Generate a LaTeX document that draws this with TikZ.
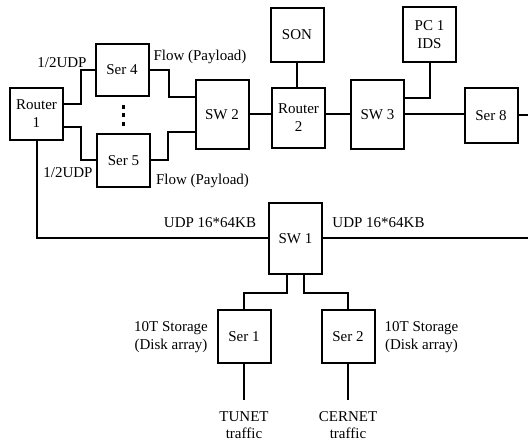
\documentclass[tikz,border=0pt]{standalone}
\usepackage{fontspec}
\setmainfont{Liberation Serif}
\usetikzlibrary{positioning}

\begin{document}
\begin{tikzpicture}[x=1pt,y=-1pt,
  box/.style={draw,line width=2pt,align=center,inner sep=0pt,
    minimum width=53pt,minimum height=53pt,font=\fontsize{15}{18}\selectfont},
  swbox/.style={box,minimum height=69pt},
  lbl/.style={inner sep=0pt,align=center,font=\fontsize{15}{18}\selectfont},
  wire/.style={line width=2pt}]
  \useasboundingbox (0,0) rectangle (528,441);
  % upper row
  \node[box,minimum height=52pt] (r1) at (36.5,114) {Router\\1};
  \node[box,minimum height=52pt] (s4) at (122,70) {Ser 4};
  \node[box] (s5) at (123.5,160.5) {Ser 5};
  \node[swbox] (sw2) at (222,114.5) {SW 2};
  \node[box,minimum height=60pt] (r2) at (298.5,118) {Router\\2};
  \node[box,minimum height=54pt] (son) at (297,35) {SON};
  \node[swbox] (sw3) at (377.5,114.5) {SW 3};
  \node[box,minimum height=55pt] (pc1) at (429.5,34.5) {PC 1\\IDS};
  \node[box,minimum height=55pt] (s8) at (491,115.5) {Ser 8};
  % dots between Ser 4 and Ser 5
  \foreach \y in {107,115.5,124}
    \fill (121.5,\y-2) rectangle (124.5,\y+2);
  % lower part
  \node[box,minimum height=71pt] (sw1) at (295.5,238.5) {SW 1};
  \node[box] (s1) at (244,336.5) {Ser 1};
  \node[box] (s2) at (348,336.5) {Ser 2};
  \coordinate (e8) at (528,116);
  \coordinate (e1) at (528,239);
  % links
  \draw[wire] ([yshift=10pt]r1.east) -- ++(17,0) |- (s4.west);
  \draw[wire] ([yshift=-13pt]r1.east) -- ++(17,0) |- (s5.west);
  \draw[wire] (s4.east) -- ++(19,0) |- ([yshift=17pt]sw2.west);
  \draw[wire] (s5.east) -- ++(17,0) |- ([yshift=-18pt]sw2.west);
  \draw[wire] (sw2.east) -- (sw2.east -| r2.west);
  \draw[wire] (son.south) -- (son.south |- r2.north);
  \draw[wire] (sw3.west) -- (sw3.west -| r2.east);
  \draw[wire] (pc1.south) |- ([yshift=16pt]sw3.east);
  \draw[wire] (sw3.east) -- (sw3.east -| s8.west);
  \draw[wire] (s8.east) -- (s8.east -| e8);
  \draw[wire] (r1.south) |- (sw1.west);
  \draw[wire] (sw1.east) -- (sw1.east -| e1);
  \draw[wire] ([xshift=-8.5pt]sw1.south) -- ++(0,18) -| (s1.north);
  \draw[wire] ([xshift=8.5pt]sw1.south) -- ++(0,18) -| (s2.north);
  \draw[wire] (s1.south) -- ++(0,36) coordinate (t1);
  \draw[wire] (s2.south) -- ++(0,36) coordinate (t2);
  % labels
  \node[lbl] (udp4) at (62,63) {1/2UDP};
  \node[lbl] (udp5) at (68,173) {1/2UDP};
  \node[lbl] (flow4) at (200,57) {Flow (Payload)};
  \node[lbl] (flow5) at (202.5,181) {Flow (Payload)};
  \node[lbl] (udpl) at (210,222.5) {UDP 16*64KB};
  \node[lbl] (udpr) at (378.5,222.5) {UDP 16*64KB};
  \node[lbl] (stor1) at (171,337.5) {10T Storage\\(Disk array)};
  \node[lbl] (stor2) at (421.5,337.5) {10T Storage\\(Disk array)};
  \node[lbl,below=11pt of t1,font=\fontsize{15}{17}\selectfont] (tunet) {TUNET\\traffic};
  \node[lbl,below=11pt of t2,font=\fontsize{15}{17}\selectfont] (cernet) {CERNET\\traffic};
\end{tikzpicture}
\end{document}
